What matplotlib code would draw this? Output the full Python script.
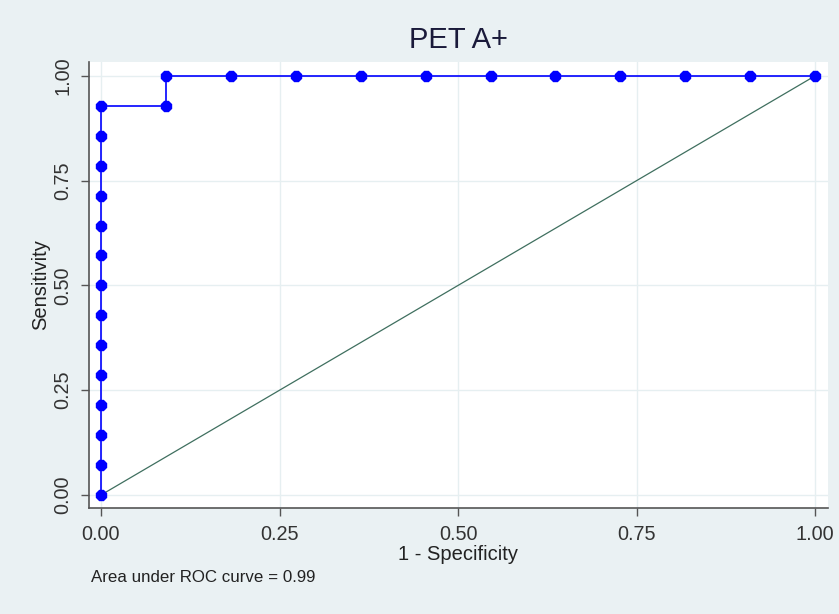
import matplotlib
matplotlib.use("Agg")
import matplotlib.pyplot as plt
import numpy as np

plt.rcParams['font.family'] = ['Liberation Sans', 'DejaVu Sans']

# ROC points (1 - specificity, sensitivity)
fpr = [0, 0, 0, 0, 0, 0, 0, 0, 0, 0, 0, 0, 0, 0,
       0.0909, 0.0909, 0.1818, 0.2727, 0.3636, 0.4545, 0.5455, 0.6364, 0.7273, 0.8182, 0.9091, 1.0]
tpr = [0, 0.0714, 0.1429, 0.2143, 0.2857, 0.3571, 0.4286, 0.5, 0.5714, 0.6429, 0.7143, 0.7857, 0.8571, 0.9286,
       0.9286, 1.0, 1.0, 1.0, 1.0, 1.0, 1.0, 1.0, 1.0, 1.0, 1.0, 1.0]
ticks = [0.0, 0.25, 0.5, 0.75, 1.0]
tick_labels = ["0.00", "0.25", "0.50", "0.75", "1.00"]
title = "PET A+"
auc_text = "Area under ROC curve = 0.99"

bg = "#EAF1F3"
fig = plt.figure(figsize=(8.39, 6.14), dpi=100, facecolor=bg)
ax = fig.add_axes([89/839, 1-508/614, (828-89)/839, (508-62)/614])
ax.set_facecolor("white")

ax.plot([0, 1], [0, 1], color="#3F6F5F", lw=0.9, zorder=2)
ax.plot(fpr, tpr, color="#0000FF", lw=1.2, marker="8", markersize=8.5,
        markerfacecolor="#0000FF", markeredgecolor="#0000FF", zorder=3)

ax.set_xlim(-0.0168, 1.018)
ax.set_ylim(-0.031, 1.033)
ax.set_xticks(ticks)
ax.set_xticklabels(tick_labels)
ax.set_yticks(ticks)
ax.set_yticklabels(tick_labels, rotation=90, va="center")
ax.grid(True, color="#E6EFF1", lw=1.0)
ax.set_axisbelow(True)
for s in ["top", "right"]:
    ax.spines[s].set_visible(False)
for s in ["left", "bottom"]:
    ax.spines[s].set_color("#555555")
    ax.spines[s].set_linewidth(1.2)
ax.tick_params(axis="both", direction="out", length=6, width=1, color="#555555",
               labelsize=14.3, labelcolor="#333333", pad=6)

ax.set_xlabel("1 - Specificity", fontsize=14.5, color="#222222", labelpad=1)
ax.set_ylabel("Sensitivity", fontsize=14.5, color="#222222", labelpad=2)
fig.text(0.5 * (89 + 828) / 839, 1 - 40/614, title, ha="center", va="center",
         fontsize=21, color="#1A1A3A")
fig.text(91/839, 1 - 578/614, auc_text, ha="left", va="center", fontsize=12.2, color="#222222")

fig.savefig("out.png", dpi=100, facecolor=bg)
